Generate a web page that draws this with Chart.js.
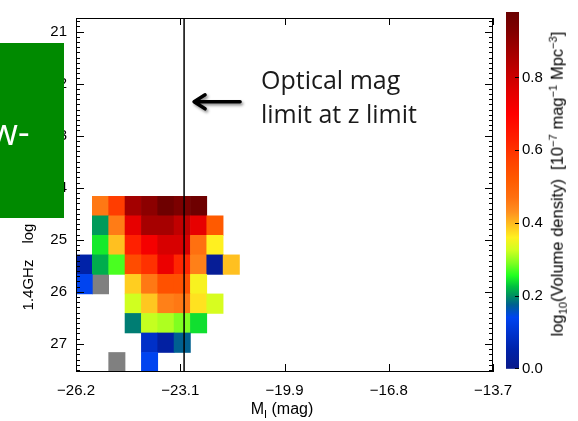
<!DOCTYPE html>
<html>
<head>
<meta charset="utf-8">
<script src="https://cdn.jsdelivr.net/npm/chart.js@4.4.1/dist/chart.umd.min.js"></script>
<style>
  body { margin: 0; background: #fff; }
  #wrap { position: relative; width: 578px; height: 421px; overflow: hidden; font-family: "Liberation Sans", Arial, sans-serif; color: #000; }
  canvas { position: absolute; top: 0; }
  #main { left: 0; }
  #cbar { left: 500px; }
  .lbl { position: absolute; white-space: nowrap; line-height: 1; transform: translate(-50%, -50%); }
  .rot { transform: translate(-50%, -50%) rotate(-90deg); }
  sub, sup { font-size: 68%; line-height: 0; }
  #note { position: absolute; left: 261px; top: 62px; font-family: "Open Sans", sans-serif; font-size: 25px; line-height: 34px; color: #1a1a1a; white-space: nowrap; }
  #greenbox { position: absolute; left: 0; top: 43px; width: 64px; height: 175px; background: #008a00; overflow: hidden; z-index: 5; }
  #greenbox span { position: absolute; left: -10px; top: 71px; font-family: "Open Sans", sans-serif; font-size: 36px; line-height: 36px; color: #fff; }
</style>
</head>
<body>
<div id="wrap">
  <canvas id="main" width="578" height="421"></canvas>
  <canvas id="cbar" width="78" height="421"></canvas>
  <div class="lbl" style="left:282px; top:409px; font-size:16px;">M<sub>I</sub> (mag)</div>
  <div class="lbl rot" style="left:27px; top:267px; font-size:15px;">1.4GHz<span style="margin-left:16px">log</span></div>
  <div class="lbl rot" style="left:557px; top:184px; font-size:16.5px;">log<sub>10</sub>(Volume density)&nbsp; [10<sup>−7</sup> mag<sup>−1</sup> Mpc<sup>−3</sup>]</div>
  <div id="note">Optical mag<br>limit at z limit</div>
  <div id="greenbox"><span>w-</span></div>
</div>
<script>
// M_I bin edges (mag) and radio luminosity bin edges (top to bottom)
const magEdges = [-26.2, -25.71, -25.22, -24.73, -24.24, -23.75, -23.26, -22.77, -22.28, -21.79, -21.30];
const lumEdges = [24.165, 24.54, 24.915, 25.29, 25.665, 26.04, 26.415, 26.79, 27.165, 27.54];

// log10 volume density, one array per luminosity bin (null = no objects)
const row0 = [null, 0.46, 0.58, 0.87, 0.91, 0.97, 0.94, 0.97, null, null];
const row1 = [null, 0.205, 0.455, 0.75, 0.865, 0.865, 0.82, 0.75, 0.52, null];
const row2 = [null, 0.245, 0.395, 0.63, 0.72, 0.78, 0.78, 0.47, 0.36, null];
const row3 = [0.05, 0.215, 0.27, 0.55, 0.60, 0.74, 0.62, 0.45, 0.02, 0.395];
const row4 = [0.14, null, null, 0.385, 0.46, 0.54, 0.54, 0.355, null, null];
const row5 = [null, null, null, 0.325, 0.39, 0.45, 0.46, 0.37, 0.33, null];
const row6 = [null, null, null, 0.19, 0.32, 0.31, 0.29, 0.24, null, null];
const row7 = [null, null, null, null, 0.09, 0.04, 0.175, null, null, null];
const row8 = [null, null, null, null, 0.14, null, null, null, null, null];
const density = [row0, row1, row2, row3, row4, row5, row6, row7, row8];

// cells drawn grey: [column, row]
const greyCells = [[1, 4], [2, 8]];

const xTicks = [-26.2, -23.075, -19.95, -16.825, -13.7];
const xTickLabels = ['−26.2', '−23.1', '−19.9', '−16.8', '−13.7'];
const yTicks = [21, 22, 23, 24, 25, 26, 27];
const cbTicks = [0.0, 0.2, 0.4, 0.6, 0.8];
const limitMag = -22.96;

const xMin = -26.2, xMax = -13.7;
const yMin = 20.74, yMax = 27.54;
const cbMin = -0.01, cbMax = 0.98;

const FONT = '"Liberation Sans", Arial, sans-serif';

// rainbow colour table
const cmapStops = [
  [0.00, '#0a1a8a'], [0.05, '#0022a8'], [0.09, '#0030c8'], [0.14, '#0044f0'],
  [0.175, '#006090'], [0.20, '#009060'], [0.225, '#00c040'], [0.255, '#20ff20'],
  [0.29, '#80ff20'], [0.325, '#d0ff20'], [0.36, '#fff020'], [0.395, '#ffc020'],
  [0.43, '#ff9020'], [0.47, '#ff7010'], [0.52, '#ff5a00'], [0.575, '#ff4000'],
  [0.63, '#ff2000'], [0.70, '#ff0000'], [0.765, '#e00000'], [0.82, '#c00000'],
  [0.875, '#a00000'], [0.93, '#800000'], [0.98, '#6a0000']
];

function rgb(h) {
  return [parseInt(h.slice(1, 3), 16), parseInt(h.slice(3, 5), 16), parseInt(h.slice(5, 7), 16)];
}

function colourFor(v) {
  if (v <= cmapStops[0][0]) return cmapStops[0][1];
  for (let i = 1; i < cmapStops.length; i++) {
    if (v <= cmapStops[i][0]) {
      const t = (v - cmapStops[i - 1][0]) / (cmapStops[i][0] - cmapStops[i - 1][0]);
      const a = rgb(cmapStops[i - 1][1]), b = rgb(cmapStops[i][1]);
      const c = a.map((q, k) => Math.round(q + (b[k] - q) * t));
      return 'rgb(' + c.join(',') + ')';
    }
  }
  return cmapStops[cmapStops.length - 1][1];
}

const centre = c => (magEdges[c] + magEdges[c + 1]) / 2;

const cellData = [];
density.forEach((row, r) => row.forEach((v, c) => {
  if (v === null) return;
  cellData.push({ x: centre(c), y: [lumEdges[r], lumEdges[r + 1]], v: v });
}));
const greyData = greyCells.map(([c, r]) => ({ x: centre(c), y: [lumEdges[r], lumEdges[r + 1]] }));

const axisDecor = {
  id: 'axisDecor',
  afterDatasetsDraw(chart) {
    const { ctx, chartArea: a } = chart;
    const x = chart.scales.x, y = chart.scales.y;
    ctx.save();
    ctx.strokeStyle = '#000';
    ctx.lineWidth = 1;
    ctx.strokeRect(a.left + 0.5, a.top + 0.5, a.right - a.left - 1, a.bottom - a.top - 1);
    ctx.beginPath();
    for (let k = Math.ceil(yMin * 10); k <= Math.floor(yMax * 10); k++) {
      const py = Math.round(y.getPixelForValue(k / 10)) + 0.5;
      const len = k % 10 === 0 ? 8 : 4;
      ctx.moveTo(a.left, py); ctx.lineTo(a.left + len, py);
      ctx.moveTo(a.right, py); ctx.lineTo(a.right - len, py);
    }
    xTicks.forEach(v => {
      const px = Math.round(x.getPixelForValue(v)) + 0.5;
      ctx.moveTo(px, a.bottom); ctx.lineTo(px, a.bottom - 8);
      ctx.moveTo(px, a.top); ctx.lineTo(px, a.top + 7);
    });
    ctx.stroke();

    // arrow pointing at the magnitude limit line
    const tipX = x.getPixelForValue(limitMag) + 10;
    const tipY = y.getPixelForValue(22.35);
    ctx.shadowColor = 'rgba(0,0,0,0.45)';
    ctx.shadowBlur = 3;
    ctx.shadowOffsetX = 1.5;
    ctx.shadowOffsetY = 2;
    ctx.lineWidth = 3.5;
    ctx.lineCap = 'round';
    ctx.lineJoin = 'round';
    ctx.beginPath();
    ctx.moveTo(tipX + 46, tipY); ctx.lineTo(tipX + 1, tipY);
    ctx.moveTo(tipX + 11, tipY - 7); ctx.lineTo(tipX, tipY); ctx.lineTo(tipX + 11, tipY + 7);
    ctx.stroke();
    ctx.restore();
  }
};

new Chart(document.getElementById('main'), {
  type: 'bar',
  data: {
    datasets: [
      {
        type: 'line',
        data: [{ x: limitMag, y: yMin }, { x: limitMag, y: yMax }],
        borderColor: '#000', borderWidth: 1.5, pointRadius: 0, order: 0
      },
      {
        data: cellData,
        backgroundColor: ctx => ctx.raw ? colourFor(ctx.raw.v) : '#fff',
        stack: 'cells', barPercentage: 1, categoryPercentage: 1, borderWidth: 0, order: 1
      },
      {
        data: greyData,
        backgroundColor: '#808080',
        stack: 'cells', barPercentage: 1, categoryPercentage: 1, borderWidth: 0, order: 1
      }
    ]
  },
  options: {
    responsive: false,
    animation: false,
    devicePixelRatio: 1,
    layout: { padding: { left: 0, top: 9, right: 85, bottom: 0 } },
    plugins: { legend: { display: false }, tooltip: { enabled: false } },
    scales: {
      x: {
        type: 'linear', min: xMin, max: xMax, offset: false,
        grid: { display: false, drawTicks: false }, border: { display: false },
        afterBuildTicks: s => { s.ticks = xTicks.map(v => ({ value: v })); },
        ticks: {
          callback: (v, i) => xTickLabels[i], color: '#000', padding: 10,
          font: { family: FONT, size: 15 }, maxRotation: 0, autoSkip: false
        },
        afterFit: s => { s.height = 49; }
      },
      y: {
        type: 'linear', reverse: true, min: yMin, max: yMax, stacked: false,
        grid: { display: false, drawTicks: false }, border: { display: false },
        afterBuildTicks: s => { s.ticks = yTicks.map(v => ({ value: v })); },
        ticks: { color: '#000', padding: 9, font: { family: FONT, size: 15 } },
        afterFit: s => { s.width = 76; }
      }
    }
  },
  plugins: [axisDecor]
});

function cbGradient(context) {
  const chart = context.chart;
  if (!chart.chartArea || !chart.scales.y) return null;
  const ys = chart.scales.y;
  const g = chart.ctx.createLinearGradient(0, ys.getPixelForValue(cbMin), 0, ys.getPixelForValue(cbMax));
  const f = v => Math.min(1, Math.max(0, (v - cbMin) / (cbMax - cbMin)));
  g.addColorStop(0, '#ffffff');
  g.addColorStop(f(0) - 0.002, '#ffffff');
  cmapStops.forEach(([v, c]) => g.addColorStop(f(v), c));
  return g;
}

const cbDecor = {
  id: 'cbDecor',
  afterDatasetsDraw(chart) {
    const { ctx, chartArea: a } = chart;
    const ys = chart.scales.y;
    ctx.save();
    ctx.strokeStyle = '#000';
    ctx.lineWidth = 1;
    ctx.beginPath();
    cbTicks.forEach(v => {
      const py = Math.round(ys.getPixelForValue(v)) + 0.5;
      ctx.moveTo(a.right, py); ctx.lineTo(a.right - 4, py);
    });
    ctx.stroke();
    ctx.restore();
  }
};

new Chart(document.getElementById('cbar'), {
  type: 'bar',
  data: {
    labels: ['cb'],
    datasets: [{ data: [[cbMin, cbMax]], backgroundColor: cbGradient, barPercentage: 1, categoryPercentage: 1, borderWidth: 0 }]
  },
  options: {
    responsive: false,
    animation: false,
    devicePixelRatio: 1,
    layout: { padding: { left: 6, top: 9, right: 0, bottom: 49 } },
    plugins: { legend: { display: false }, tooltip: { enabled: false } },
    scales: {
      x: { display: false },
      y: {
        position: 'right', min: cbMin, max: cbMax,
        grid: { display: false, drawTicks: false }, border: { display: false },
        afterBuildTicks: s => { s.ticks = cbTicks.map(v => ({ value: v })); },
        ticks: { callback: v => v.toFixed(1), color: '#000', padding: 3, font: { family: FONT, size: 15 } },
        afterFit: s => { s.width = 59; }
      }
    }
  },
  plugins: [cbDecor]
});
</script>
</body>
</html>
